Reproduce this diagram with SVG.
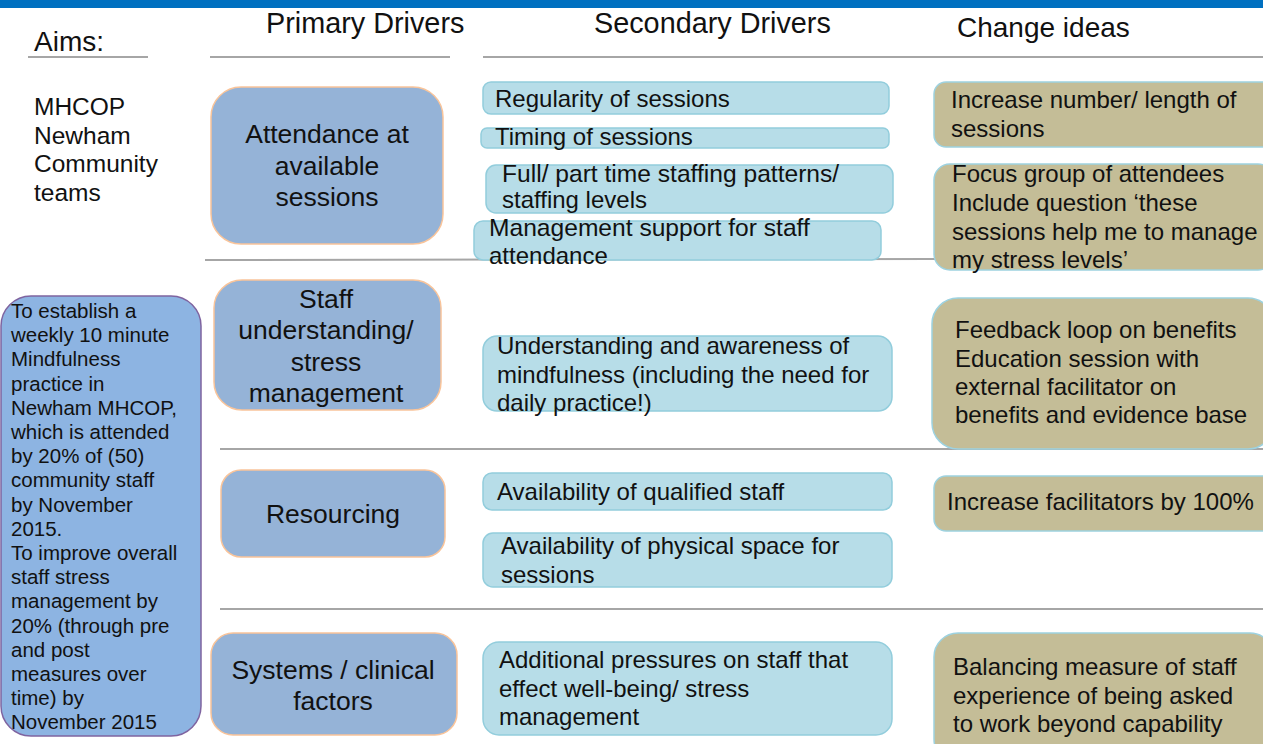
<svg xmlns="http://www.w3.org/2000/svg" width="1263" height="744" viewBox="0 0 1263 744">
<style>
text{font-family:"Liberation Sans",Arial,sans-serif;fill:#111111}
.hdr{font-size:28px}
.pri{fill:#95B3D7;stroke:#F9C49A;stroke-width:1.5}
.pt{font-size:26.5px;text-anchor:middle}
.sec{fill:#B7DDE8;stroke:#92CDDC;stroke-width:1.5}
.chg{fill:#C4BD97;stroke:#9DD2E0;stroke-width:1.5}
.bt{font-size:24px}
.mh{font-size:24.5px}
.aim{fill:#8DB4E2;stroke:#7F64A0;stroke-width:1.5}
.at{font-size:20.5px}
.sep{stroke:#A6A6A6;stroke-width:2;fill:none}
</style>
<rect x="0" y="0" width="1263" height="744" fill="#ffffff"/>
<rect x="0" y="0" width="1263" height="8" fill="#0070C0"/>

<g id="headers">
<text class="hdr" x="34" y="51">Aims:</text>
<text class="hdr" x="266" y="33" style="font-size:28.8px">Primary Drivers</text>
<text class="hdr" x="594" y="33" style="font-size:28.8px">Secondary Drivers</text>
<text class="hdr" x="957" y="37">Change ideas</text>
</g>

<g id="connectors">
<line class="sep" x1="28" y1="57" x2="148" y2="57"/>
<line class="sep" x1="210" y1="57" x2="450" y2="57"/>
<line class="sep" x1="483" y1="57" x2="1263" y2="57"/>
<line class="sep" x1="205" y1="260" x2="935" y2="259"/>
<line class="sep" x1="220" y1="449" x2="1263" y2="449"/>
<line class="sep" x1="220" y1="609" x2="1263" y2="609"/>
</g>

<g id="aim-title">
<text class="mh" x="34" y="115">MHCOP</text>
<text class="mh" x="34" y="144">Newham</text>
<text class="mh" x="34" y="172">Community</text>
<text class="mh" x="34" y="201">teams</text>
</g>

<g id="aim-box">
<rect class="aim" x="1" y="296" width="200" height="440" rx="30"/>
<text class="at" x="11" y="318">To establish a</text>
<text class="at" x="11" y="342.2">weekly 10 minute</text>
<text class="at" x="11" y="366.4">Mindfulness</text>
<text class="at" x="11" y="390.6">practice in</text>
<text class="at" x="11" y="414.8">Newham MHCOP,</text>
<text class="at" x="11" y="439">which is attended</text>
<text class="at" x="11" y="463.2">by 20% of (50)</text>
<text class="at" x="11" y="487.4">community  staff</text>
<text class="at" x="11" y="511.6">by November</text>
<text class="at" x="11" y="535.8">2015.</text>
<text class="at" x="11" y="560">To improve overall</text>
<text class="at" x="11" y="584.2">staff stress</text>
<text class="at" x="11" y="608.4">management by</text>
<text class="at" x="11" y="632.6">20% (through pre</text>
<text class="at" x="11" y="656.8">and post</text>
<text class="at" x="11" y="681">measures over</text>
<text class="at" x="11" y="705.2">time) by</text>
<text class="at" x="11" y="729.4">November 2015</text>
</g>

<g id="p1">
<rect class="pri" x="211" y="87" width="232" height="157" rx="30"/>
<text class="pt" x="327" y="143">Attendance at</text>
<text class="pt" x="327" y="175">available</text>
<text class="pt" x="327" y="206">sessions</text>
</g>
<g id="p2">
<rect class="pri" x="214" y="280" width="227" height="130" rx="28"/>
<text class="pt" x="326" y="308">Staff</text>
<text class="pt" x="326" y="339">understanding/</text>
<text class="pt" x="326" y="371">stress</text>
<text class="pt" x="326" y="402">management</text>
</g>
<g id="p3">
<rect class="pri" x="221" y="470" width="224" height="87" rx="20"/>
<text class="pt" x="333" y="523">Resourcing</text>
</g>
<g id="p4">
<rect class="pri" x="211" y="633" width="246" height="102" rx="22"/>
<text class="pt" x="333" y="679">Systems / clinical</text>
<text class="pt" x="333" y="710">factors</text>
</g>

<g id="s1">
<rect class="sec" x="483" y="82" width="406" height="32" rx="8"/>
<text class="bt" x="495" y="107">Regularity of sessions</text>
</g>
<g id="s2">
<rect class="sec" x="481" y="128" width="408" height="20" rx="6"/>
<text class="bt" x="495" y="145">Timing of sessions</text>
</g>
<g id="s3">
<rect class="sec" x="486" y="165" width="407" height="48" rx="10"/>
<text class="bt" x="502" y="182" style="font-size:24.6px">Full/ part time staffing patterns/</text>
<text class="bt" x="502" y="208">staffing levels</text>
</g>
<g id="s4">
<rect class="sec" x="474" y="221" width="407" height="39" rx="9"/>
<text class="bt" x="489" y="236" style="font-size:24.6px">Management support for staff</text>
<text class="bt" x="489" y="264">attendance</text>
</g>
<g id="s5">
<rect class="sec" x="483" y="336" width="409" height="75" rx="14"/>
<text class="bt" x="497" y="354">Understanding and awareness of</text>
<text class="bt" x="497" y="383">mindfulness (including the need for</text>
<text class="bt" x="497" y="411">daily practice!)</text>
</g>
<g id="s6">
<rect class="sec" x="483" y="473" width="409" height="37" rx="9"/>
<text class="bt" x="497" y="500">Availability of qualified staff</text>
</g>
<g id="s7">
<rect class="sec" x="483" y="533" width="409" height="54" rx="10"/>
<text class="bt" x="501" y="554">Availability of physical space for</text>
<text class="bt" x="501" y="583">sessions</text>
</g>
<g id="s8">
<rect class="sec" x="483" y="642" width="409" height="93" rx="16"/>
<text class="bt" x="499" y="668">Additional pressures on staff that</text>
<text class="bt" x="499" y="697">effect well-being/ stress</text>
<text class="bt" x="499" y="725">management</text>
</g>

<g id="c1">
<rect class="chg" x="934" y="82" width="340" height="65" rx="12"/>
<text class="bt" x="951" y="108">Increase number/ length of</text>
<text class="bt" x="951" y="137">sessions</text>
</g>
<g id="c2">
<rect class="chg" x="934" y="164" width="340" height="106" rx="16"/>
<text class="bt" x="952" y="182">Focus group of attendees</text>
<text class="bt" x="952" y="211">Include question ‘these</text>
<text class="bt" x="952" y="240">sessions help me to manage</text>
<text class="bt" x="952" y="268">my stress levels’</text>
</g>
<g id="c3">
<rect class="chg" x="932" y="298" width="342" height="151" rx="26"/>
<text class="bt" x="955" y="338">Feedback loop on benefits</text>
<text class="bt" x="955" y="367">Education session with</text>
<text class="bt" x="955" y="395">external facilitator on</text>
<text class="bt" x="955" y="423">benefits and evidence base</text>
</g>
<g id="c4">
<rect class="chg" x="934" y="476" width="340" height="55" rx="12"/>
<text class="bt" x="947" y="510">Increase facilitators by 100%</text>
</g>
<g id="c5">
<rect class="chg" x="934" y="633" width="340" height="130" rx="24"/>
<text class="bt" x="953" y="675">Balancing measure of staff</text>
<text class="bt" x="953" y="704">experience of being asked</text>
<text class="bt" x="953" y="732">to work beyond capability</text>
</g>
</svg>
